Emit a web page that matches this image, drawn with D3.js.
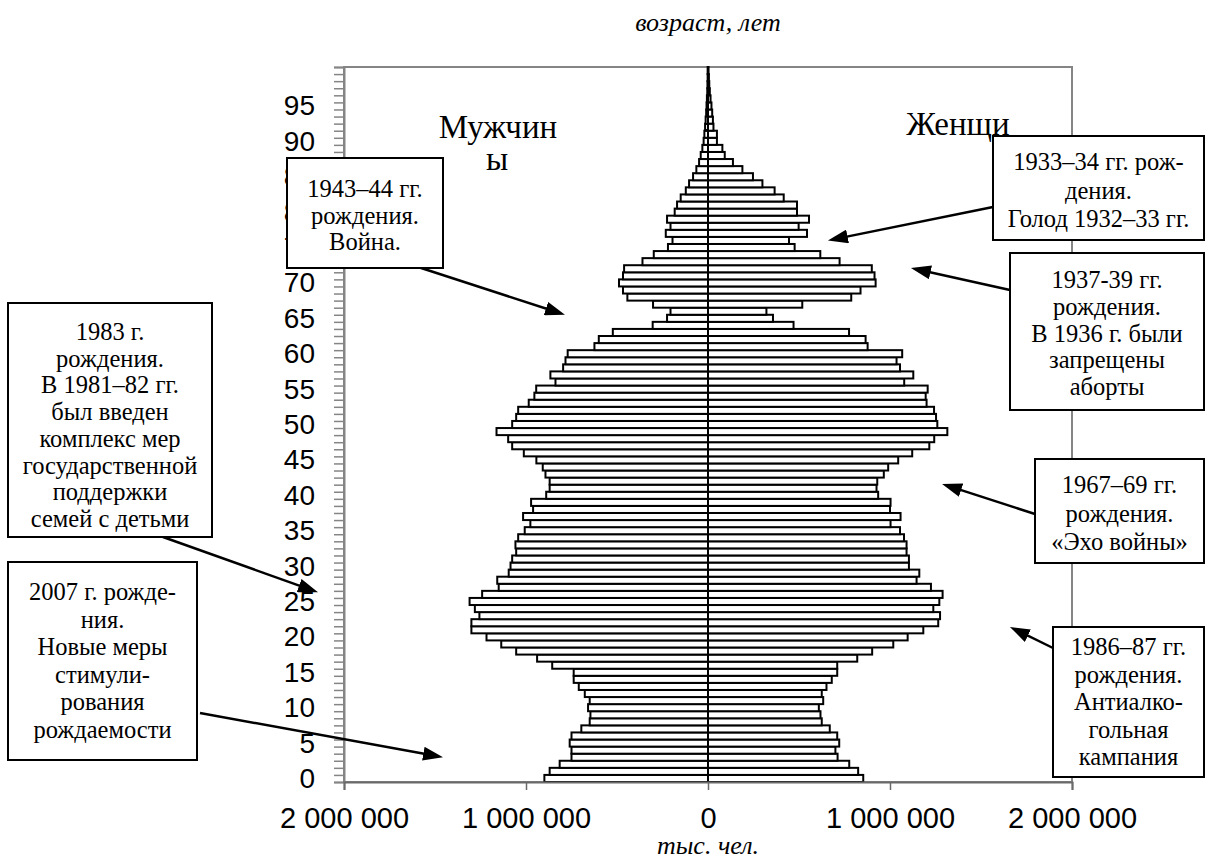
<!DOCTYPE html>
<html>
<head>
<meta charset="utf-8">
<script src="https://cdn.jsdelivr.net/npm/d3@7"></script>
<style>
    body { margin: 0; background: #ffffff; }
    svg { display: block; }
    .serif { font-family: "Liberation Serif", "Times New Roman", serif; }
    .sans { font-family: "Liberation Sans", Arial, sans-serif; }
</style>
</head>
<body>
<svg id="pyramid" width="1205" height="867"></svg>
<script>
/**
 * Age groups, one bar per year of age.
 */
const ages = [
    0, 1, 2, 3, 4, 5, 6, 7, 8, 9, 10, 11, 12, 13, 14, 15, 16, 17, 18, 19,
    20, 21, 22, 23, 24, 25, 26, 27, 28, 29, 30, 31, 32, 33, 34, 35, 36, 37, 38, 39,
    40, 41, 42, 43, 44, 45, 46, 47, 48, 49, 50, 51, 52, 53, 54, 55, 56, 57, 58, 59,
    60, 61, 62, 63, 64, 65, 66, 67, 68, 69, 70, 71, 72, 73, 74, 75, 76, 77, 78, 79,
    80, 81, 82, 83, 84, 85, 86, 87, 88, 89, 90, 91, 92, 93, 94, 95, 96, 97, 98, 99, 100
];

/**
 * Men, thousand persons, by age 0..100.
 */
const men = [
    899, 870, 815, 750, 750, 760, 750, 696, 650, 646,
    659, 650, 677, 710, 738, 738, 856, 939, 1054, 1136,
    1217, 1300, 1300, 1256, 1281, 1310, 1241, 1150, 1158, 1095,
    1085, 1076, 1054, 1058, 1043, 1007, 976, 1016, 961, 972,
    889, 870, 870, 893, 908, 943, 1012, 1076, 1098, 1162,
    1076, 1054, 1043, 985, 954, 944, 838, 866, 796, 783,
    771, 624, 600, 523, 304, 225, 206, 302, 443, 467,
    489, 467, 461, 360, 298, 220, 195, 232, 206, 225,
    183, 170, 150, 122, 104, 82, 64, 49, 40, 31,
    24, 20, 16, 13, 10, 8, 6, 4, 3, 2, 2
];

/**
 * Women, thousand persons, by age 0..100.
 */
const women = [
    853, 825, 776, 712, 700, 721, 710, 669, 625, 618,
    609, 633, 625, 651, 680, 710, 710, 820, 902, 1018,
    1097, 1183, 1265, 1275, 1238, 1271, 1289, 1225, 1146, 1161,
    1104, 1104, 1091, 1091, 1077, 1055, 1003, 1058, 1000, 1003,
    935, 926, 930, 966, 990, 1045, 1122, 1216, 1243, 1315,
    1260, 1253, 1242, 1201, 1196, 1207, 1078, 1128, 1055, 1036,
    1067, 877, 866, 775, 470, 357, 321, 518, 787, 838,
    921, 915, 900, 723, 617, 476, 445, 544, 498, 555,
    489, 489, 416, 366, 299, 247, 189, 137, 92, 79,
    49, 49, 30, 27, 23, 19, 14, 10, 7, 5, 3
];

/**
 * Labelled ages on the vertical axis.
 */
const ageTicks = [0, 5, 10, 15, 20, 25, 30, 35, 40, 45, 50, 55, 60, 65, 70, 75, 80, 85, 90, 95];

/**
 * Horizontal ticks (thousands) and the labels printed under them.
 */
const popTicks = [-2000, -1000, 0, 1000, 2000];
const popTickLabels = ["2 000 000", "1 000 000", "0", "1 000 000", "2 000 000"];

/**
 * Callout boxes: text lines, box [x, y, w, h], first baseline, line step,
 * arrow start in pixels and arrow tip in data units [thousands, age].
 */
const notes = [
    {lines: ["1943–44 гг.", "рождения.", "Война."],
        box: [287, 158, 156, 110], base: 197, step: 26.5, from: [415, 266], tip: [-786, 65.5]},
    {lines: ["1933–34 гг. рож-", "дения.", "Голод 1932–33 гг."],
        box: [993, 136, 211, 104], base: 170, step: 28.5, from: [993, 207], tip: [659, 76]},
    {lines: ["1937-39 гг.", "рождения.", "В 1936 г. были", "запрещены", "аборты"],
        box: [1010, 253, 194, 157], base: 288, step: 26.8, from: [1010, 290], tip: [1115, 72.1]},
    {lines: ["1967–69 гг.", "рождения.", "«Эхо войны»"],
        box: [1035, 459, 169, 104], base: 493, step: 28.5, from: [1035, 514], tip: [1286, 41.6]},
    {lines: ["1986–87 гг.", "рождения.", "Антиалко-", "гольная", "кампания"],
        box: [1053, 627, 151, 150], base: 655, step: 27.5, from: [1053, 648], tip: [1659, 21.4]},
    {lines: ["1983 г.", "рождения.", "В 1981–82 гг.", "был введен", "комплекс мер",
        "государственной", "поддержки", "семей с детьми"],
        box: [8, 303, 204, 234], base: 340, step: 26.7, from: [163, 537], tip: [-2143, 26.3]},
    {lines: ["2007 г. рожде-", "ния.", "Новые меры", "стимули-", "рования", "рождаемости"],
        box: [8, 562, 189, 198], base: 600, step: 27.6, from: [200, 713], tip: [-1456, 3.0]}
];

/**
 * Plot area.
 */
const plotLeft = 344, plotRight = 1072, plotTop = 67, plotBottom = 782;

const frameColor = "#858585";

let svg = d3.select("#pyramid");

// x: thousands of persons, men to the left
let x = d3.scaleLinear()
    .domain([-2000, 2000])
    .range([plotLeft, plotRight]);

// y: one band per age, no gap so the outlines touch
let y = d3.scaleBand()
    .domain(ages)
    .range([plotBottom, plotTop])
    .padding(0);

// continuous age -> pixel, for ticks and arrow tips
let yAge = d3.scaleLinear()
    .domain([-0.5, ages.length - 0.5])
    .range([plotBottom, plotTop]);

/**
 * Draws the grey frame of the plot area.
 */
function draw_frame() {
    svg.append("rect")
        .attr("x", plotLeft)
        .attr("y", plotTop)
        .attr("width", plotRight - plotLeft)
        .attr("height", plotBottom - plotTop)
        .attr("fill", "none")
        .attr("stroke", frameColor)
        .attr("stroke-width", 2);
}

/**
 * Draws both halves of the pyramid.
 */
function draw_bars() {
    let g = svg.append("g");

    g.selectAll(".men")
        .data(ages)
        .enter().append("rect")
        .attr("class", "men")
        .attr("x", function (d) {
            return x(-men[d]);
        })
        .attr("width", function (d) {
            return x(0) - x(-men[d]);
        })
        .attr("y", function (d) {
            return y(d);
        })
        .attr("height", y.bandwidth())
        .attr("fill", "#ffffff")
        .attr("stroke", "#000000")
        .attr("stroke-width", 2);

    g.selectAll(".women")
        .data(ages)
        .enter().append("rect")
        .attr("class", "women")
        .attr("x", x(0))
        .attr("width", function (d) {
            return x(women[d]) - x(0);
        })
        .attr("y", function (d) {
            return y(d);
        })
        .attr("height", y.bandwidth())
        .attr("fill", "#ffffff")
        .attr("stroke", "#000000")
        .attr("stroke-width", 2);
}

/**
 * Draws the age axis (minor ticks between bars, labels every 5 years)
 * and the population axis at the bottom.
 */
function draw_axes() {
    // minor ticks on every band boundary
    let bounds = d3.range(-0.5, ages.length, 1);
    let minor = svg.append("g")
        .attr("transform", "translate(" + plotLeft + ",0)")
        .call(d3.axisLeft(yAge).tickValues(bounds).tickSize(10).tickFormat(""));
    minor.select(".domain").attr("stroke", frameColor).attr("stroke-width", 2);
    minor.selectAll(".tick line").attr("stroke", frameColor).attr("stroke-width", 1.5);

    let labels = svg.append("g")
        .attr("transform", "translate(" + plotLeft + ",0)")
        .call(d3.axisLeft(yAge).tickValues(ageTicks).tickSize(0).tickPadding(29));
    labels.select(".domain").remove();
    labels.attr("font-family", null).attr("font-size", null);
    labels.selectAll("text")
        .attr("class", "sans")
        .style("font-size", "28px")
        .attr("fill", "#000000");

    let bottomAxis = svg.append("g")
        .attr("transform", "translate(0," + plotBottom + ")")
        .call(d3.axisBottom(x).tickValues(popTicks).tickSize(8).tickPadding(17)
            .tickFormat(function (d, i) {
                return popTickLabels[i];
            }));
    bottomAxis.attr("font-family", null).attr("font-size", null);
    bottomAxis.select(".domain").attr("stroke", "#6a6a6a").attr("stroke-width", 2);
    bottomAxis.selectAll(".tick line").attr("stroke", "#6a6a6a").attr("stroke-width", 1.5);
    bottomAxis.selectAll("text")
        .attr("class", "sans")
        .style("font-size", "29px")
        .attr("fill", "#000000");
}

/**
 * Adds a serif text element.
 */
function serif_text(px, py, size, italic, str) {
    svg.append("text")
        .attr("class", "serif")
        .attr("x", px)
        .attr("y", py)
        .attr("text-anchor", "middle")
        .style("font-size", size + "px")
        .style("font-style", italic ? "italic" : "normal")
        .text(str);
}

/**
 * Axis titles and the two sex labels.
 */
function draw_titles() {
    serif_text(x(0), 31, 26, true, "возраст, лет");
    serif_text(x(0), 854, 26, true, "тыс. чел.");
    serif_text(498, 138, 33, false, "Мужчин");
    serif_text(497, 170, 33, false, "ы");
    serif_text(958, 135, 33, false, "Женщи");
}

/**
 * Arrows first, then the white boxes with their text on top.
 */
function draw_notes() {
    svg.append("defs").append("marker")
        .attr("id", "head")
        .attr("viewBox", "0 0 20 14")
        .attr("refX", 12)
        .attr("refY", 7)
        .attr("markerWidth", 20)
        .attr("markerHeight", 14)
        .attr("markerUnits", "userSpaceOnUse")
        .attr("orient", "auto")
        .append("path")
        .attr("d", "M0,0L20,7L0,14Z")
        .attr("fill", "#000000");

    notes.forEach(function (n) {
        let tx = x(n.tip[0]);
        let ty = yAge(n.tip[1]);
        let dx = tx - n.from[0], dy = ty - n.from[1];
        let len = Math.sqrt(dx * dx + dy * dy);
        // stop the shaft a bit early so the head keeps its point
        svg.append("line")
            .attr("x1", n.from[0])
            .attr("y1", n.from[1])
            .attr("x2", tx - dx / len * 8)
            .attr("y2", ty - dy / len * 8)
            .attr("stroke", "#000000")
            .attr("stroke-width", 2.5)
            .attr("marker-end", "url(#head)");
    });

    notes.forEach(function (n) {
        let g = svg.append("g");
        g.append("rect")
            .attr("x", n.box[0])
            .attr("y", n.box[1])
            .attr("width", n.box[2])
            .attr("height", n.box[3])
            .attr("fill", "#ffffff")
            .attr("stroke", "#000000")
            .attr("stroke-width", 2);
        g.selectAll("text")
            .data(n.lines)
            .enter().append("text")
            .attr("class", "serif")
            .attr("x", n.box[0] + n.box[2] / 2)
            .attr("y", function (d, i) {
                return n.base + i * n.step;
            })
            .attr("text-anchor", "middle")
            .style("font-size", "24.5px")
            .attr("fill", "#000000")
            .text(function (d) {
                return d;
            });
    });
}

draw_frame();
draw_bars();
draw_axes();
draw_titles();
draw_notes();
</script>
</body>
</html>
